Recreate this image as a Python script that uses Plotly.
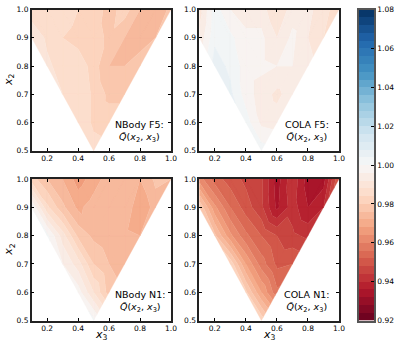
import plotly.graph_objects as go
from plotly.colors import sample_colorscale

# --- DATA ---
X2_ROWS = [1.0, 0.9, 0.8, 0.7, 0.6, 0.5]
X3_ROWS = [
    [0.1, 0.2, 0.3, 0.4, 0.5, 0.6, 0.7, 0.8, 0.9, 1.0],
    [0.1, 0.2, 0.3, 0.4, 0.5, 0.6, 0.7, 0.8, 0.9],
    [0.2, 0.3, 0.4, 0.5, 0.6, 0.7, 0.8],
    [0.3, 0.4, 0.5, 0.6, 0.7],
    [0.4, 0.5, 0.6],
    [0.5],
]
NBODY_F5 = [
    [.985, .984, .987, .984, .983, .978, .982, .976, .973, .977],
    [.992, .987, .984, .982, .982, .979, .976, .975, .976],
    [.989, .986, .987, .982, .976, .976, .977],
    [.988, .988, .983, .979, .979],
    [.988, .983, .982],
    [.986],
]
COLA_F5 = [
    [.990, 1.002, .996, .994, .994, .988, .994, .993, .990, .985],
    [.993, 1.003, 1.001, .997, .997, .992, .997, .992, .988],
    [1.006, 1.003, .998, .997, .996, .996, .994],
    [1.005, .998, .994, .991, .994],
    [1.002, .995, .994],
    [1.002],
]
NBODY_N1 = [
    [.982, .976, .972, .966, .970, .974, .975, .972, .977, .976],
    [1.000, .985, .977, .971, .974, .973, .976, .968, .974],
    [1.001, .990, .979, .975, .973, .973, .972],
    [.996, .990, .980, .976, .974],
    [.998, .988, .978],
    [1.001],
]
COLA_N1 = [
    [.962, .954, .950, .947, .945, .934, .943, .934, .934, .952],
    [.980, .965, .956, .950, .945, .935, .942, .936, .940],
    [.977, .965, .957, .952, .948, .945, .943],
    [.983, .968, .958, .951, .952],
    [.981, .968, .957],
    [.983],
]
PANELS = [("NBody F5:", NBODY_F5), ("COLA F5:", COLA_F5), ("NBody N1:", NBODY_N1), ("COLA N1:", COLA_N1)]
X_TICKS = [0.2, 0.4, 0.6, 0.8, 1.0]
Y_TICKS = [0.5, 0.6, 0.7, 0.8, 0.9, 1.0]
CB_TICKS = [0.92, 0.94, 0.96, 0.98, 1.00, 1.02, 1.04, 1.06, 1.08]

V_MIN, V_MAX, N_BANDS = 0.92, 1.08, 40
W, H = 399, 346
FONT = "DejaVu Sans"
# pixel boxes of the panels: left, right, top, bottom
BOXES = [(31.7, 171, 5.7, 150.6), (199.3, 339, 5.7, 150.6), (31.7, 171, 179.7, 325), (199.3, 339, 179.7, 325)]
CB_BOX = (359, 374, 5.7, 325)

band_w = (V_MAX - V_MIN) / N_BANDS
BAND_COLORS = sample_colorscale("RdBu", [(i + 0.5) / N_BANDS for i in range(N_BANDS)])
BAND_MIDS = [V_MIN + (i + 0.5) * band_w for i in range(N_BANDS)]


def triangles():
    """Index triangles on the grid, diagonals running along the wedge edges"""
    pts = {}
    for r, row in enumerate(X3_ROWS):
        for x3 in row:
            pts[(round(x3 * 10), 10 - r)] = (r, row.index(x3))
    tris = []
    for i in range(1, 10):
        for j in range(5, 10):
            a, b, c, d = (i, j), (i + 1, j), (i, j + 1), (i + 1, j + 1)
            if i < 5:
                cand = [(c, b, a), (c, b, d)]
            else:
                cand = [(a, d, b), (a, d, c)]
            for t in cand:
                if all(p in pts for p in t):
                    tris.append([(p[0] / 10, p[1] / 10, pts[p]) for p in t])
    return tris


def clip(poly, level, keep_above):
    """Clip a polygon of (x, y, v) against v = level"""
    out = []
    for k in range(len(poly)):
        p, q = poly[k], poly[(k + 1) % len(poly)]
        p_in = p[2] >= level if keep_above else p[2] <= level
        q_in = q[2] >= level if keep_above else q[2] <= level
        if p_in:
            out.append(p)
        if p_in != q_in:
            t = (level - p[2]) / (q[2] - p[2])
            out.append((p[0] + t * (q[0] - p[0]), p[1] + t * (q[1] - p[1]), level))
    return out


TRIS = triangles()
fig = go.Figure()
layout = dict(width=W, height=H, autosize=False, margin=dict(l=0, r=0, t=0, b=0, pad=0),
              paper_bgcolor="white", plot_bgcolor="white", showlegend=False,
              font=dict(family=FONT, color="black", size=7.5))

for n, (name, values) in enumerate(PANELS):
    sfx = "" if n == 0 else str(n + 1)
    left, right, top, bottom = BOXES[n]
    for b in range(N_BANDS):
        lo = V_MIN + b * band_w
        xs, ys = [], []
        for tri in TRIS:
            poly = [(x, y, values[idx[0]][idx[1]]) for x, y, idx in tri]
            poly = clip(poly, lo, True)
            if poly:
                poly = clip(poly, lo + band_w, False)
            if len(poly) >= 3:
                xs += [p[0] for p in poly] + [poly[0][0], None]
                ys += [p[1] for p in poly] + [poly[0][1], None]
        if xs:
            fig.add_trace(go.Scatter(x=xs, y=ys, mode="lines", fill="toself", fillcolor=BAND_COLORS[b],
                                     line=dict(color=BAND_COLORS[b], width=0.4), hoverinfo="skip",
                                     xaxis="x" + sfx, yaxis="y" + sfx))
    axis = dict(ticks="inside", ticklen=3, tickwidth=1, tickcolor="black", showline=True, linecolor="#222",
                linewidth=1.5, mirror="allticks", showgrid=False, zeroline=False, automargin=False)
    layout["xaxis" + sfx] = dict(axis, domain=[left / W, right / W], range=[0.1, 1.0], tickvals=X_TICKS,
                                 ticktext=[f"{v:.1f}" for v in X_TICKS], anchor="y" + sfx)
    layout["yaxis" + sfx] = dict(axis, domain=[1 - bottom / H, 1 - top / H], range=[0.5, 1.0], tickvals=Y_TICKS,
                                 ticktext=[f"{v:.1f}" for v in Y_TICKS], anchor="x" + sfx)
    if n >= 2:
        fig.add_annotation(x=0.55, y=0, xref="x" + sfx, yref="paper", yshift=-3, yanchor="bottom", showarrow=False,
                           text="<i>x</i><sub>3</sub>", font=dict(size=11, color="black"))
    if n % 2 == 0:
        fig.add_annotation(x=0, y=0.75, xref="paper", yref="y" + sfx, xanchor="left", xshift=0, showarrow=False,
                           textangle=-90, text="<i>x</i><sub>2</sub>", font=dict(size=11, color="black"))
    fig.add_annotation(x=0.797, y=0.569, xref="x" + sfx, yref="y" + sfx, showarrow=False, align="center",
                       text=f"{name}<br><i>Q̄</i>(<i>x</i><sub>2</sub>, <i>x</i><sub>3</sub>)",
                       font=dict(size=9.5, color="black"))

# colour bar as a stepped heatmap on its own axes
scale = []
for b in range(N_BANDS):
    scale += [[b / N_BANDS, BAND_COLORS[b]], [(b + 1) / N_BANDS, BAND_COLORS[b]]]
fig.add_trace(go.Heatmap(x=[0], y=BAND_MIDS, z=[[m] for m in BAND_MIDS], zmin=V_MIN, zmax=V_MAX, colorscale=scale,
                         showscale=False, hoverinfo="skip", xaxis="x5", yaxis="y5"))
layout["xaxis5"] = dict(domain=[CB_BOX[0] / W, CB_BOX[1] / W], range=[-0.5, 0.5], showticklabels=False, ticks="",
                        showgrid=False, zeroline=False, showline=True, linecolor="#555", linewidth=1.5, mirror=True,
                        anchor="y5")
layout["yaxis5"] = dict(domain=[1 - CB_BOX[3] / H, 1 - CB_BOX[2] / H], range=[V_MIN, V_MAX], side="right", anchor="x5",
                        ticks="inside", ticklen=3, tickwidth=1, tickcolor="black", tickvals=CB_TICKS,
                        ticktext=[f"{v:.2f}" for v in CB_TICKS], showgrid=False, zeroline=False, showline=True,
                        linecolor="#555", linewidth=1.5, mirror=True)
fig.update_layout(**layout)
# the page's default body margin would push the figure off the window
fig.write_html("out.html", post_script="document.body.style.margin = '0';", config={"displayModeBar": False})
